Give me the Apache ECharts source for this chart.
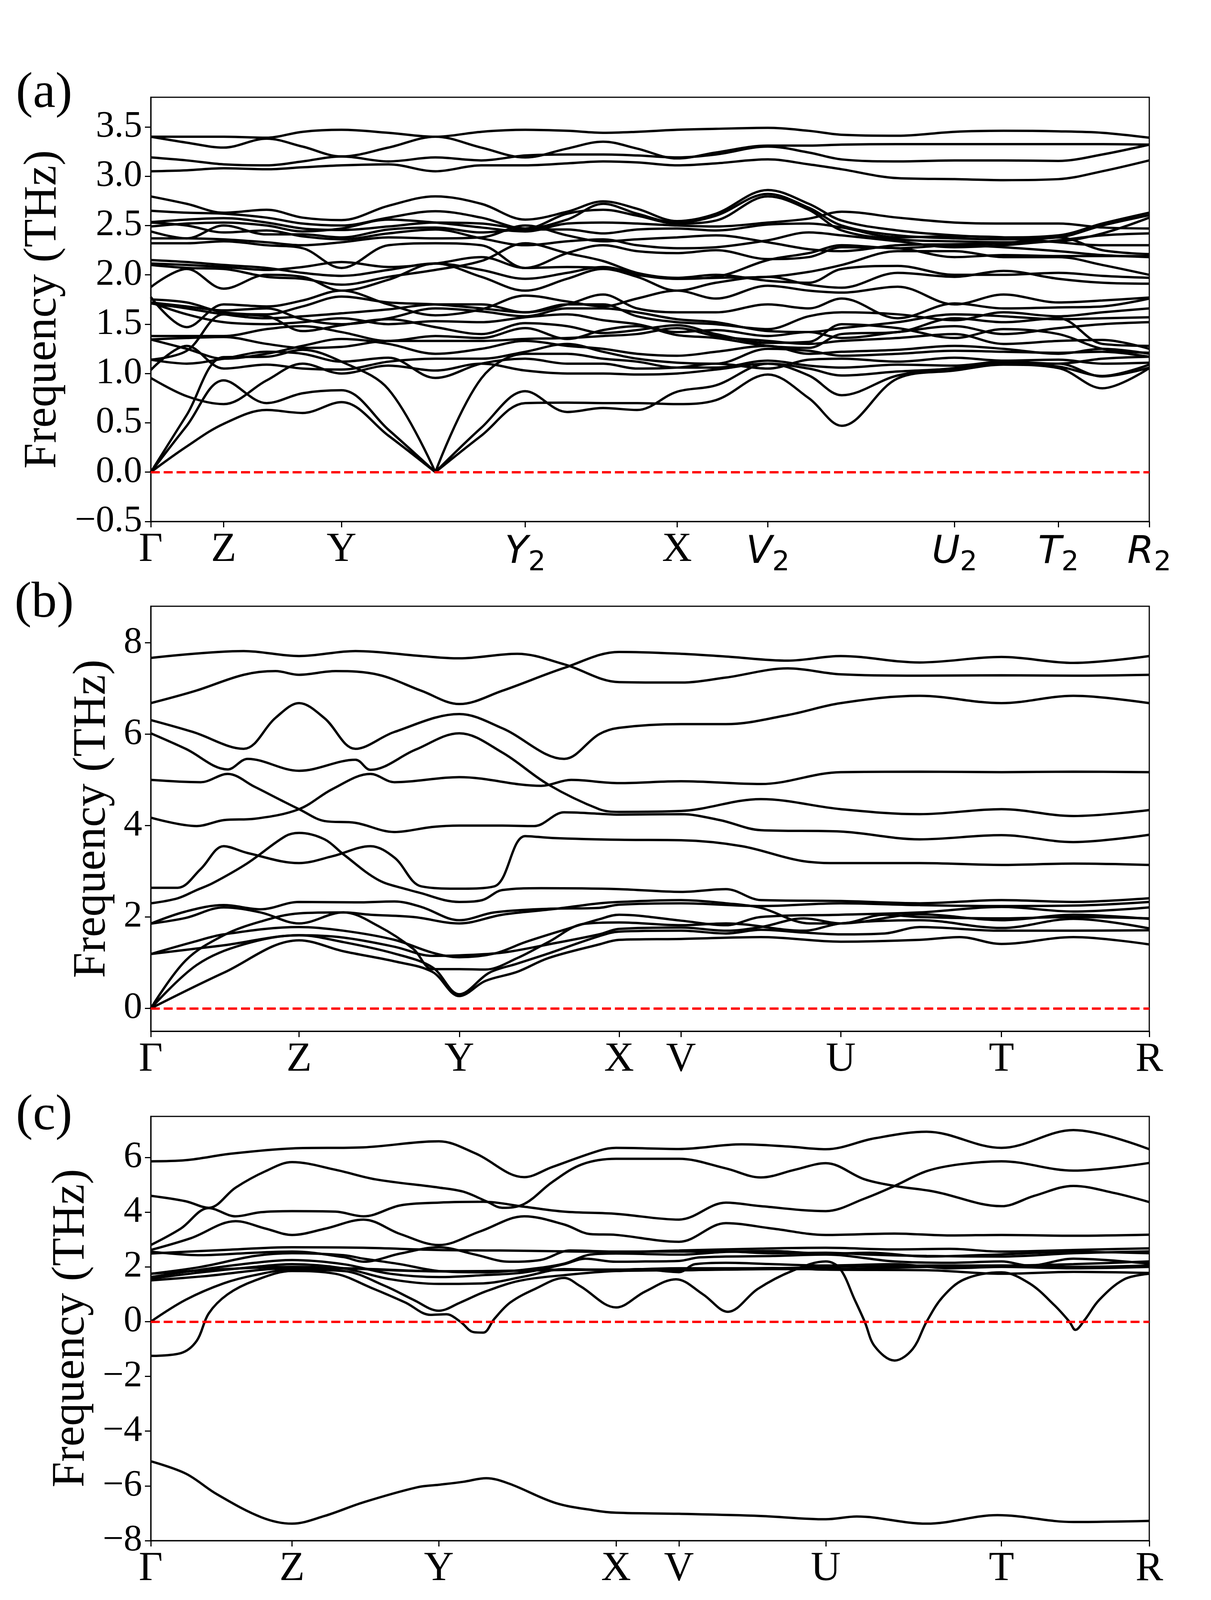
<!DOCTYPE html>
<html>
<head>
<meta charset="utf-8">
<script src="https://cdn.jsdelivr.net/npm/echarts@6.0.0/dist/echarts.min.js"></script>
<style>
  html, body { margin: 0; padding: 0; background: #fff; }
  #chart { width: 3100px; height: 4133px; }
</style>
</head>
<body>
<div id="chart"></div>
<script>
// ---------- panel (a): k grid shared by all bands ----------
const kA = [0, 3.6, 7.3, 11.6, 15.2, 19.1, 23.8, 28.5, 33.1, 37.5, 41.7, 45.3, 48.7, 52.7, 56.6, 61.8, 65.9, 69.2, 74.8, 80.5, 85.4, 90.9, 95.3, 100];
const ticksA = [0, 7.3, 19.1, 37.5, 52.7, 61.8, 80.5, 90.9, 100];
const labelsA = ['Γ', 'Z', 'Y', 'Y_2', 'X', 'V_2', 'U_2', 'T_2', 'R_2'];

const H1 = [3.40, 3.40, 3.40, 3.39, 3.45, 3.47, 3.44, 3.40, 3.45, 3.47, 3.46, 3.44, 3.45, 3.47, 3.48, 3.49, 3.46, 3.42, 3.41, 3.45, 3.46, 3.455, 3.44, 3.39];
const H2 = [3.40, 3.34, 3.29, 3.38, 3.30, 3.20, 3.29, 3.40, 3.29, 3.19, 3.28, 3.35, 3.28, 3.18, 3.24, 3.31, 3.31, 3.32, 3.325, 3.325, 3.325, 3.325, 3.325, 3.32];
const H3 = [3.19, 3.16, 3.12, 3.11, 3.15, 3.20, 3.15, 3.19, 3.16, 3.21, 3.22, 3.22, 3.21, 3.19, 3.22, 3.30, 3.24, 3.17, 3.15, 3.16, 3.16, 3.155, 3.22, 3.32];
const H4 = [3.05, 3.06, 3.08, 3.07, 3.09, 3.11, 3.12, 3.05, 3.11, 3.11, 3.13, 3.15, 3.14, 3.11, 3.13, 3.17, 3.12, 3.07, 2.98, 2.97, 2.96, 2.97, 3.05, 3.16];
const M1 = [2.795, 2.72, 2.63, 2.66, 2.58, 2.555, 2.70, 2.795, 2.72, 2.56, 2.64, 2.745, 2.67, 2.545, 2.62, 2.86, 2.72, 2.55, 2.45, 2.40, 2.38, 2.40, 2.52, 2.63];
const M2 = [2.65, 2.63, 2.62, 2.58, 2.52, 2.50, 2.58, 2.645, 2.58, 2.47, 2.56, 2.72, 2.62, 2.53, 2.60, 2.82, 2.68, 2.50, 2.40, 2.37, 2.36, 2.38, 2.50, 2.605];
const M3 = [2.535, 2.56, 2.575, 2.53, 2.47, 2.455, 2.49, 2.53, 2.52, 2.47, 2.62, 2.66, 2.60, 2.52, 2.55, 2.795, 2.66, 2.45, 2.36, 2.34, 2.33, 2.34, 2.42, 2.58];
const M4 = [2.49, 2.52, 2.53, 2.50, 2.44, 2.47, 2.56, 2.53, 2.48, 2.44, 2.52, 2.53, 2.52, 2.50, 2.49, 2.53, 2.57, 2.64, 2.58, 2.53, 2.52, 2.52, 2.48, 2.47];
const M5 = [2.44, 2.37, 2.50, 2.41, 2.41, 2.38, 2.46, 2.48, 2.43, 2.46, 2.46, 2.42, 2.46, 2.47, 2.45, 2.51, 2.52, 2.48, 2.38, 2.39, 2.38, 2.33, 2.30, 2.30];
const M6 = [2.37, 2.37, 2.36, 2.33, 2.30, 2.33, 2.38, 2.37, 2.38, 2.50, 2.40, 2.34, 2.36, 2.38, 2.40, 2.33, 2.26, 2.24, 2.30, 2.31, 2.32, 2.38, 2.25, 2.21];
const M7 = [2.32, 2.32, 2.34, 2.30, 2.27, 2.07, 2.30, 2.32, 2.30, 2.07, 2.22, 2.30, 2.24, 2.22, 2.25, 2.16, 2.18, 2.28, 2.27, 2.18, 2.20, 2.19, 2.19, 2.19];
const M8 = [2.15, 2.13, 2.10, 2.07, 2.02, 1.99, 2.05, 2.115, 2.05, 1.96, 2.02, 2.08, 2.01, 1.96, 1.98, 2.15, 2.22, 2.30, 2.27, 2.30, 2.28, 2.24, 2.20, 2.18];
const M9 = [2.115, 2.10, 2.08, 2.05, 2.08, 2.13, 2.08, 2.115, 2.18, 2.07, 2.08, 2.07, 2.00, 1.96, 1.97, 1.98, 2.03, 2.10, 2.24, 2.24, 2.18, 2.18, 2.10, 2.00];
const M10 = [2.10, 2.07, 2.06, 1.98, 1.96, 1.90, 1.98, 2.05, 2.14, 2.32, 2.22, 2.14, 2.02, 1.97, 2.00, 1.94, 1.92, 2.06, 2.09, 2.00, 2.00, 2.02, 1.99, 1.97];
const M11 = [2.53, 2.50, 2.43, 2.45, 2.39, 2.36, 2.42, 2.46, 2.37, 2.30, 2.34, 2.36, 2.30, 2.27, 2.28, 2.35, 2.43, 2.40, 2.34, 2.28, 2.30, 2.35, 2.40, 2.42];
const L1 = [1.875, 2.06, 1.86, 2.00, 1.98, 1.84, 1.95, 2.115, 1.98, 1.84, 1.96, 2.06, 1.98, 1.84, 1.92, 1.98, 1.90, 1.87, 2.02, 1.98, 2.04, 1.96, 1.92, 1.91];
const L2 = [1.775, 1.47, 1.70, 1.68, 1.74, 1.84, 1.70, 1.59, 1.65, 1.79, 1.73, 1.68, 1.76, 1.84, 1.76, 1.89, 1.84, 1.82, 1.88, 1.70, 1.80, 1.72, 1.74, 1.77];
const L3 = [1.75, 1.72, 1.62, 1.60, 1.68, 1.78, 1.72, 1.70, 1.66, 1.62, 1.70, 1.80, 1.66, 1.62, 1.62, 1.70, 1.66, 1.76, 1.56, 1.71, 1.66, 1.67, 1.68, 1.76];
const L4 = [1.71, 1.66, 1.60, 1.56, 1.58, 1.61, 1.65, 1.70, 1.70, 1.62, 1.70, 1.70, 1.58, 1.52, 1.50, 1.45, 1.58, 1.62, 1.60, 1.54, 1.62, 1.58, 1.62, 1.66];
const L5 = [1.72, 1.68, 1.64, 1.66, 1.55, 1.50, 1.56, 1.66, 1.63, 1.58, 1.66, 1.66, 1.62, 1.55, 1.52, 1.43, 1.42, 1.46, 1.52, 1.60, 1.58, 1.55, 1.56, 1.57];
const L6 = [1.38, 1.38, 1.38, 1.45, 1.48, 1.42, 1.33, 1.38, 1.36, 1.46, 1.35, 1.44, 1.48, 1.39, 1.36, 1.28, 1.26, 1.40, 1.42, 1.56, 1.52, 1.56, 1.30, 1.28];
const L7 = [1.345, 1.36, 1.37, 1.30, 1.26, 1.27, 1.33, 1.33, 1.33, 1.35, 1.36, 1.38, 1.40, 1.46, 1.38, 1.33, 1.30, 1.33, 1.36, 1.40, 1.30, 1.33, 1.34, 1.25];
const L8 = [1.14, 1.23, 1.60, 1.58, 1.43, 1.49, 1.55, 1.47, 1.40, 1.51, 1.48, 1.41, 1.44, 1.49, 1.40, 1.31, 1.32, 1.50, 1.46, 1.36, 1.45, 1.40, 1.25, 1.21];
const L9 = [1.035, 1.28, 1.05, 1.09, 1.05, 1.04, 1.12, 1.15, 1.15, 1.22, 1.30, 1.22, 1.15, 1.11, 1.10, 1.25, 1.23, 1.18, 1.20, 1.23, 1.22, 1.21, 1.22, 1.17];
const L10 = [0.955, 0.77, 0.69, 0.93, 1.10, 1.00, 1.08, 1.03, 1.10, 1.03, 1.00, 1.00, 0.99, 1.00, 1.04, 1.10, 1.05, 0.98, 1.02, 1.05, 1.10, 1.10, 0.97, 1.06];
const L11 = [1.72, 1.60, 1.52, 1.50, 1.52, 1.56, 1.50, 1.53, 1.52, 1.57, 1.60, 1.54, 1.50, 1.42, 1.44, 1.38, 1.42, 1.36, 1.42, 1.48, 1.40, 1.46, 1.50, 1.52];
const L12 = [1.345, 1.25, 1.15, 1.20, 1.28, 1.35, 1.30, 1.20, 1.25, 1.33, 1.28, 1.25, 1.20, 1.18, 1.22, 1.28, 1.20, 1.22, 1.24, 1.28, 1.25, 1.20, 1.25, 1.20];
const E1 = [1.14, 1.10, 1.15, 1.22, 1.20, 1.12, 1.16, 0.955, 1.10, 1.15, 1.10, 1.10, 1.05, 1.06, 1.10, 1.05, 1.14, 1.15, 1.12, 1.16, 1.13, 1.14, 1.10, 1.11];
const A1 = [0, 0.26, 0.49, 0.63, 0.60, 0.71, 0.37, 0, 0.37, 0.70, 0.705, 0.70, 0.70, 0.69, 0.73, 0.99, 0.75, 0.47, 0.95, 1.03, 1.09, 1.055, 0.85, 1.055];
const A2 = [0, 0.47, 0.93, 0.70, 0.80, 0.83, 0.43, 0, 0.45, 0.82, 0.61, 0.65, 0.63, 0.815, 0.88, 1.10, 0.98, 0.78, 0.98, 1.055, 1.10, 1.07, 0.975, 1.09];
const A3 = [0, 0.58, 1.166, 1.17, 1.24, 1.12, 0.84, 0, 0.95, 1.20, 1.20, 1.15, 1.12, 1.06, 1.06, 1.13, 1.08, 1.06, 1.09, 1.08, 1.12, 1.10, 1.15, 1.17];
const bandsA = [H1, H2, H3, H4, M1, M2, M3, M4, M5, M6, M7, M8, M9, M10, M11,
  L1, L2, L3, L4, L5, L6, L7, L8, L9, L10, L11, L12, E1, A1, A2, A3];

// ---------- panel (b): [k, frequency] ----------
const ticksB = [0, 14.85, 30.9, 46.9, 53.1, 69.1, 85.2, 100];
const labelsB = ['Γ', 'Z', 'Y', 'X', 'V', 'U', 'T', 'R'];

const B1 = [[0,7.67],[9.3,7.82],[14.85,7.71],[20.5,7.82],[27.1,7.71],[30.9,7.66],[36.7,7.76],[41.4,7.53],[46.9,7.14],[53.1,7.13],[57.6,7.24],[63.8,7.44],[69.1,7.31],[77,7.28],[85.2,7.29],[92.4,7.28],[100,7.30]];
const B2 = [[0,6.68],[4.5,6.95],[9.3,7.30],[12.5,7.38],[14.85,7.30],[18.5,7.38],[22.8,7.30],[27.1,6.95],[30.9,6.66],[35.2,6.95],[41.4,7.45],[46.9,7.80],[53.1,7.76],[57.6,7.70],[63.8,7.61],[69.1,7.71],[77,7.57],[85.2,7.69],[92.4,7.56],[100,7.71]];
const B3 = [[0,6.31],[4.2,6.05],[9.3,5.68],[12.5,6.36],[14.85,6.68],[17.4,6.35],[20.5,5.68],[24.4,6.05],[30.9,6.44],[35.2,6.13],[41.4,5.46],[44.9,6.00],[46.9,6.14],[53.1,6.22],[57.6,6.22],[63.8,6.42],[69.1,6.68],[77,6.84],[85.2,6.68],[92.4,6.84],[100,6.68]];
const B4 = [[0,6.02],[3.5,5.68],[7.7,5.23],[9.7,5.46],[14.85,5.20],[20.5,5.44],[22.0,5.22],[26.5,5.66],[30.9,6.02],[35.2,5.60],[39.8,4.90],[44.9,4.36],[46.9,4.30],[53.1,4.32],[61.1,4.58],[69.1,4.36],[77,4.25],[85.2,4.36],[92.4,4.21],[100,4.34]];
const B5 = [[0,5.00],[5,4.95],[7.7,5.13],[10.4,4.85],[13.1,4.55],[14.85,4.36],[17.4,4.10],[20.5,4.06],[24.4,3.86],[28.2,3.97],[30.9,4.00],[35.2,4.00],[38.4,3.99],[41.4,4.29],[44.9,4.26],[46.9,4.24],[53.1,4.25],[57.0,4.12],[61.1,3.90],[69.1,3.87],[77,3.70],[85.2,3.79],[92.4,3.64],[100,3.80]];
const B6 = [[0,4.175],[4.6,3.99],[7.3,4.12],[10.4,4.15],[14.85,4.36],[18.2,4.80],[22.0,5.13],[24.4,4.95],[30.9,5.06],[39.1,4.87],[42.1,5.00],[46.9,4.93],[53.1,4.97],[61.1,4.91],[69.1,5.17],[77,5.18],[85.2,5.17],[92.4,5.18],[100,5.17]];
const B7 = [[0,2.64],[2.7,2.64],[5.0,3.05],[7.3,3.55],[9.7,3.40],[14.85,3.18],[18.2,3.33],[22.0,3.55],[24.4,3.30],[27.1,2.67],[30.9,2.62],[34.4,2.67],[37.5,3.77],[40.2,3.73],[46.9,3.69],[53.1,3.68],[59.2,3.55],[65.4,3.22],[69.1,3.18],[77,3.18],[85.2,3.14],[92.4,3.17],[100,3.14]];
const B8 = [[0,2.30],[2.7,2.41],[4.6,2.59],[6.2,2.74],[9.7,3.18],[13.5,3.77],[14.85,3.84],[17.4,3.70],[19.3,3.37],[22.8,2.81],[25.9,2.59],[27.1,2.52],[29.4,2.37],[30.9,2.33],[33.2,2.37],[35.2,2.59],[39.1,2.63],[46.9,2.61],[53.1,2.55],[57.6,2.61],[61.1,2.37],[69.1,2.35],[77,2.30],[85.2,2.37],[92.4,2.33],[100,2.41]];
const B9 = [[0,1.855],[3.5,2.12],[7.3,2.26],[11,2.17],[14.85,2.33],[20.5,2.32],[24.4,2.34],[27.1,2.22],[30.9,1.93],[34.4,2.10],[39.8,2.18],[44.9,2.20],[46.9,2.27],[53.1,2.30],[61.1,2.24],[69.1,2.30],[77,2.26],[85.2,2.24],[92.4,2.25],[100,2.33]];
const B10 = [[0,1.855],[3.5,1.98],[7.3,2.21],[11,2.10],[14.85,1.86],[19.3,2.10],[22.0,2.05],[26.3,2.00],[30.9,1.86],[35.2,2.05],[40.2,2.17],[44.9,2.30],[46.9,2.33],[53.1,2.37],[57.6,2.30],[61.1,2.20],[66,1.86],[69.1,1.86],[77,2.06],[85.2,1.93],[92.4,2.05],[100,1.96]];
const B11 = [[0,1.19],[4.2,1.45],[7.3,1.62],[14.85,1.78],[19.3,1.70],[24.4,1.50],[28.2,1.22],[30.9,1.12],[34.4,1.20],[37.5,1.45],[41.4,1.72],[44.9,1.95],[46.9,2.05],[53.1,1.92],[57.6,1.82],[61.1,2.00],[69.1,2.05],[77,2.10],[85.2,2.22],[92.4,2.12],[100,2.21]];
const B12 = [[0,1.19],[4.2,1.30],[7.3,1.38],[14.85,1.60],[19.3,1.55],[24.4,1.35],[28.2,1.15],[30.9,1.16],[35.2,1.22],[39.8,1.40],[44.9,1.62],[46.9,1.74],[53.1,1.77],[57.6,1.70],[61.1,1.78],[65.4,1.97],[69.1,1.86],[73.5,2.05],[77,2.00],[85.2,1.97],[92.4,2.00],[100,1.97]];
const B13 = [[0,0],[7.3,0.78],[14.85,1.49],[19.3,1.25],[24.4,1.03],[28.2,0.80],[30.9,0.27],[33.5,0.60],[36.7,0.80],[39.8,1.10],[44.9,1.40],[46.9,1.50],[53.1,1.52],[61.1,1.56],[69.1,1.46],[77,1.50],[81,1.56],[85.2,1.41],[92.4,1.56],[100,1.40]];
const B14 = [[0,0],[4.6,0.95],[9.3,1.40],[14.85,1.60],[19.3,1.45],[24.4,1.20],[28.2,0.90],[30.9,0.31],[33.9,0.78],[36.7,0.98],[39.8,1.20],[44.9,1.58],[46.9,1.68],[53.1,1.70],[57.6,1.64],[61.1,1.72],[65.4,1.66],[69.1,1.62],[73.5,1.64],[77,1.78],[85.2,1.70],[92.4,1.70],[100,1.71]];
const B15 = [[0,0],[3.5,1.05],[7.3,1.60],[11,1.90],[14.85,2.08],[19.3,2.10],[22.8,1.80],[26.3,1.30],[28.2,0.86],[30.9,0.86],[33.5,0.85],[36.7,1.10],[39.8,1.45],[43.4,1.85],[46.9,1.88],[53.1,1.82],[57.6,1.86],[65.4,1.70],[69.1,1.86],[77,1.93],[85.2,1.76],[92.4,1.96],[100,1.75]];
const bandsB = [B1, B2, B3, B4, B5, B6, B7, B8, B9, B10, B11, B12, B13, B14, B15];

// ---------- panel (c): [k, frequency] ----------
const ticksC = [0, 14.15, 28.85, 46.6, 52.9, 67.6, 85.2, 100];
const labelsC = ['Γ', 'Z', 'Y', 'X', 'V', 'U', 'T', 'R'];

const C1 = [[0,5.86],[3.5,5.90],[8.1,6.14],[14.15,6.33],[21.3,6.37],[28.85,6.59],[32.5,6.15],[37.4,5.28],[40.2,5.65],[45,6.26],[46.6,6.35],[52.9,6.31],[59.2,6.48],[63.8,6.40],[67.6,6.30],[72.5,6.70],[77.7,6.94],[85.2,6.35],[92.4,7.00],[100,6.30]];
const C2 = [[0,4.60],[3.5,4.40],[5.8,4.16],[8.5,4.90],[11.5,5.50],[14.15,5.83],[18.5,5.55],[22.5,5.20],[28.85,4.90],[31.3,4.75],[33.6,4.40],[35.2,4.16],[37.4,4.30],[40.2,5.10],[43.2,5.75],[46.6,5.95],[52.9,5.95],[57.6,5.60],[61.1,5.27],[64.5,5.55],[67.6,5.79],[71.5,5.20],[74.5,4.96],[78.5,4.75],[85.2,4.22],[88.5,4.60],[92.4,4.96],[96.5,4.70],[100,4.37]];
const C3 = [[0,2.80],[3.0,3.40],[5.8,4.15],[8.5,3.85],[11.0,4.00],[14.15,4.04],[18.5,4.02],[21.3,3.85],[25.0,4.25],[28.85,4.35],[33.3,4.38],[37.4,4.20],[41.4,4.02],[46.6,3.94],[52.9,3.73],[57.6,4.35],[61.1,4.22],[67.6,4.04],[71.5,4.50],[74.5,4.96],[77.7,5.50],[81,5.75],[85.2,5.86],[92.4,5.52],[100,5.80]];
const C4 = [[0,2.62],[4.0,3.05],[8.5,3.67],[11.5,3.40],[14.15,3.17],[17.5,3.40],[21.3,3.73],[25.0,3.20],[28.85,2.80],[33,3.30],[37.4,3.85],[41.4,3.55],[44,3.20],[46.6,3.17],[52.9,2.92],[57.6,3.60],[62.3,3.40],[67.6,3.17],[74.5,3.22],[80,3.15],[85.2,3.17],[92.4,3.14],[100,3.18]];
const C5 = [[0,2.49],[7.3,2.62],[14.15,2.72],[21.3,2.70],[28.85,2.62],[35,2.60],[41.4,2.57],[46.6,2.55],[52.9,2.60],[61.1,2.67],[67.6,2.70],[74.5,2.64],[80,2.66],[85.2,2.56],[92.4,2.62],[100,2.68]];
const C6 = [[0,2.56],[5.0,2.43],[10.4,2.52],[14.15,2.56],[19.3,2.36],[21.3,2.19],[25.0,2.49],[28.85,2.72],[32.5,2.45],[35.9,2.19],[39.0,2.25],[42.0,2.60],[46.6,2.56],[52.9,2.56],[57.6,2.56],[62.3,2.50],[67.6,2.52],[72,2.45],[77.7,2.40],[85.2,2.38],[92.4,2.50],[100,2.57]];
const C7 = [[0,1.75],[5.0,2.00],[10.4,2.40],[14.15,2.50],[19.3,2.43],[21.3,2.30],[25.0,2.10],[28.85,1.85],[33.3,1.80],[37.4,1.90],[41.4,2.12],[44.0,2.45],[46.6,2.49],[52.9,2.45],[57.6,2.55],[62.3,2.58],[67.6,2.48],[72,2.52],[77.7,2.38],[85.2,2.46],[92.4,2.55],[100,2.50]];
const C8 = [[0,1.63],[5.0,1.90],[10.4,2.15],[14.15,2.25],[19.3,2.10],[24.0,1.75],[28.85,1.63],[33.3,1.70],[37.4,1.80],[41.4,2.10],[43.5,2.30],[46.6,2.19],[49.5,2.20],[52.9,2.22],[55.0,2.35],[62.3,2.40],[67.6,2.45],[74.5,2.20],[80,2.15],[85.2,2.20],[88,2.05],[92.4,2.30],[100,2.12]];
const C9 = [[0,1.57],[5.0,1.80],[10.4,2.00],[14.15,2.10],[19.3,1.95],[24.0,1.55],[28.85,1.38],[33.3,1.40],[37.4,1.65],[41.4,1.92],[46.6,1.88],[49.0,1.92],[52.9,1.81],[54.5,2.10],[57.6,2.15],[62.3,2.10],[67.6,2.05],[74.5,2.10],[80,1.95],[85.2,2.00],[92.4,1.95],[100,2.00]];
const C10 = [[0,1.51],[5.0,1.65],[14.15,1.95],[21.3,1.93],[28.85,1.84],[35,1.85],[41.4,1.90],[46.6,1.90],[52.9,1.95],[62.3,1.95],[67.6,2.00],[77.7,2.05],[85.2,2.05],[92.4,2.10],[100,2.20]];
const C11 = [[0,1.75],[14.15,2.00],[28.85,1.84],[46.6,1.90],[52.9,1.88],[62.3,1.96],[67.6,1.90],[77.7,1.88],[85.2,1.75],[92.4,1.82],[100,1.78]];
const C12 = [[0,-1.25],[3.0,-1.15],[4.6,-0.70],[5.8,0.30],[7.7,1.00],[10.4,1.50],[14.15,1.85],[18.5,1.75],[22.0,1.25],[25.5,0.70],[28.0,0.25],[29.6,0.27],[31.0,0.00],[32.3,-0.38],[33.3,-0.40],[34.4,0.10],[36.0,0.70],[38.5,1.20],[41.4,1.60],[43.0,1.30],[46.6,0.52],[49.5,1.10],[52.6,1.55],[55.3,1.00],[57.8,0.36],[60.8,1.20],[64.2,1.85],[67.6,2.20],[69.0,1.95],[70.5,0.80],[71.5,0.00],[72.5,-0.90],[74.5,-1.42],[76.3,-1.00],[77.7,0.00],[79.3,0.90],[81.5,1.55],[85.2,1.80],[88.0,1.40],[90.5,0.60],[92.0,0.00],[92.6,-0.30],[93.5,0.05],[95.0,0.80],[97.5,1.55],[100,1.75]];
const C13 = [[0,0],[3.5,0.80],[7.3,1.40],[10.4,1.70],[14.15,1.90],[19.3,1.85],[23.5,1.30],[26.3,0.80],[28.85,0.40],[31.0,0.70],[33.5,1.10],[37.0,1.50],[41.4,1.70],[46.6,1.85],[52.9,1.88],[57.6,1.90],[62.3,1.92],[67.6,1.92],[72,1.95],[77.7,2.00],[85.2,2.05],[92.4,2.00],[100,2.05]];
const C14 = [[0,-5.10],[3.5,-5.55],[6.6,-6.30],[11.1,-7.15],[14.15,-7.38],[17.4,-7.10],[21.3,-6.60],[26.7,-6.05],[28.85,-5.96],[31.3,-5.85],[33.6,-5.72],[35.9,-5.92],[40.5,-6.62],[44.5,-6.90],[46.6,-6.98],[52.9,-7.02],[61.1,-7.10],[67.6,-7.22],[70.7,-7.12],[77.7,-7.38],[84.8,-7.07],[92.4,-7.32],[100,-7.28]];
const bandsC = [C1, C2, C3, C4, C5, C6, C7, C8, C9, C10, C11, C12, C13, C14];

// y tick values per panel
const yTicksA = [-0.5, 0, 0.5, 1.0, 1.5, 2.0, 2.5, 3.0, 3.5];
const yTicksB = [0, 2, 4, 6, 8];
const yTicksC = [-8, -6, -4, -2, 0, 2, 4, 6];

// ---------- helpers ----------
const SERIF = 'Liberation Serif';
const minus = s => s.replace('-', '\u2212');

// split a band at interior zero points so acoustic kinks stay sharp
function segmentsOf(ks, vals) {
  const segs = [];
  let cur = [];
  vals.forEach((v, i) => {
    cur.push([ks[i], v]);
    if (v === 0 && i > 0 && i < vals.length - 1) {
      segs.push(cur);
      cur = [[ks[i], v]];
    }
  });
  segs.push(cur);
  return segs;
}

function tickLabel(ticks, labels) {
  return function (v) {
    const i = ticks.findIndex(t => Math.abs(t - v) < 1e-6);
    if (i < 0) return '';
    const s = labels[i];
    if (s.indexOf('_') > 0) {
      const p = s.split('_');
      return '{m|' + p[0] + '}{s|' + p[1] + '}';
    }
    return s;
  };
}

const gridTops = [249, 1552, 2858];
const gridHeights = [1086, 1088, 1086];
const yRanges = [[-0.5, 3.8], [-0.5, 8.8], [-8, 7.5]];
const yTickSets = [yTicksA, yTicksB, yTicksC];
const xTickSets = [ticksA, ticksB, ticksC];
const xLabelSets = [labelsA, labelsB, labelsC];
const yFormats = [v => minus(v.toFixed(1)), v => minus(String(Math.round(v))), v => minus(String(Math.round(v)))];

const grids = [], xAxes = [], yAxes = [], series = [];

for (let p = 0; p < 3; p++) {
  grids.push({
    left: 386, width: 2556, top: gridTops[p], height: gridHeights[p],
    show: true, borderColor: '#000', borderWidth: 3, backgroundColor: 'transparent'
  });
  xAxes.push({
    gridIndex: p, type: 'value', min: 0, max: 100,
    axisLine: { show: true, onZero: false, lineStyle: { color: '#000', width: 3 } },
    axisTick: { show: true, inside: false, length: 15, lineStyle: { color: '#000', width: 3 }, customValues: xTickSets[p] },
    axisLabel: {
      show: true, customValues: xTickSets[p], formatter: tickLabel(xTickSets[p], xLabelSets[p]),
      margin: 20, color: '#000', fontFamily: SERIF, fontSize: 106,
      rich: {
        m: { fontFamily: 'DejaVu Sans', fontStyle: 'italic', fontSize: 98, color: '#000' },
        s: { fontFamily: 'DejaVu Sans', fontSize: 70, color: '#000', padding: [52, 0, 0, 0] }
      }
    },
    splitLine: { show: false }
  });
  yAxes.push({
    gridIndex: p, type: 'value', min: yRanges[p][0], max: yRanges[p][1],
    axisLine: { show: true, onZero: false, lineStyle: { color: '#000', width: 3 } },
    axisTick: { show: true, inside: false, length: 15, lineStyle: { color: '#000', width: 3 }, customValues: yTickSets[p] },
    axisLabel: {
      show: true, customValues: yTickSets[p], formatter: yFormats[p],
      margin: 22, color: '#000', fontFamily: SERIF, fontSize: 95
    },
    splitLine: { show: false }
  });
}

function addLine(p, data) {
  series.push({
    type: 'line', xAxisIndex: p, yAxisIndex: p, data: data,
    showSymbol: false, symbol: 'none', smooth: 0.35,
    lineStyle: { color: '#000', width: 6 }, silent: true, z: 2
  });
}

bandsA.forEach(b => segmentsOf(kA, b).forEach(seg => addLine(0, seg)));
bandsB.forEach(b => addLine(1, b));
bandsC.forEach(b => addLine(2, b));

// dashed zero line in each panel
for (let p = 0; p < 3; p++) {
  series.push({
    type: 'line', xAxisIndex: p, yAxisIndex: p, data: [], silent: true, z: 3,
    markLine: {
      silent: true, symbol: ['none', 'none'], label: { show: false }, animation: false,
      lineStyle: { color: '#ff0000', type: [23, 10], width: 6 },
      data: [{ yAxis: 0 }]
    }
  });
}

const textStyle = (txt, size) => ({
  text: txt, fontSize: size, fontFamily: SERIF, fill: '#000',
  align: 'center', verticalAlign: 'middle', textAlign: 'center', textVerticalAlign: 'middle'
});

const graphic = [
  { type: 'text', x: 113, y: 240, style: textStyle('(a)', 130) },
  { type: 'text', x: 113, y: 1545, style: textStyle('(b)', 130) },
  { type: 'text', x: 113, y: 2857, style: textStyle('(c)', 130) },
  { type: 'text', x: 111, y: 792, rotation: Math.PI / 2, style: textStyle('Frequency (THz)', 118) },
  { type: 'text', x: 237, y: 2096, rotation: Math.PI / 2, style: textStyle('Frequency (THz)', 118) },
  { type: 'text', x: 183, y: 3400, rotation: Math.PI / 2, style: textStyle('Frequency (THz)', 118) }
];

const chart = echarts.init(document.getElementById('chart'), null, { renderer: 'canvas' });
chart.setOption({
  animation: false,
  backgroundColor: '#fff',
  grid: grids,
  xAxis: xAxes,
  yAxis: yAxes,
  series: series,
  graphic: graphic
});
</script>
</body>
</html>
